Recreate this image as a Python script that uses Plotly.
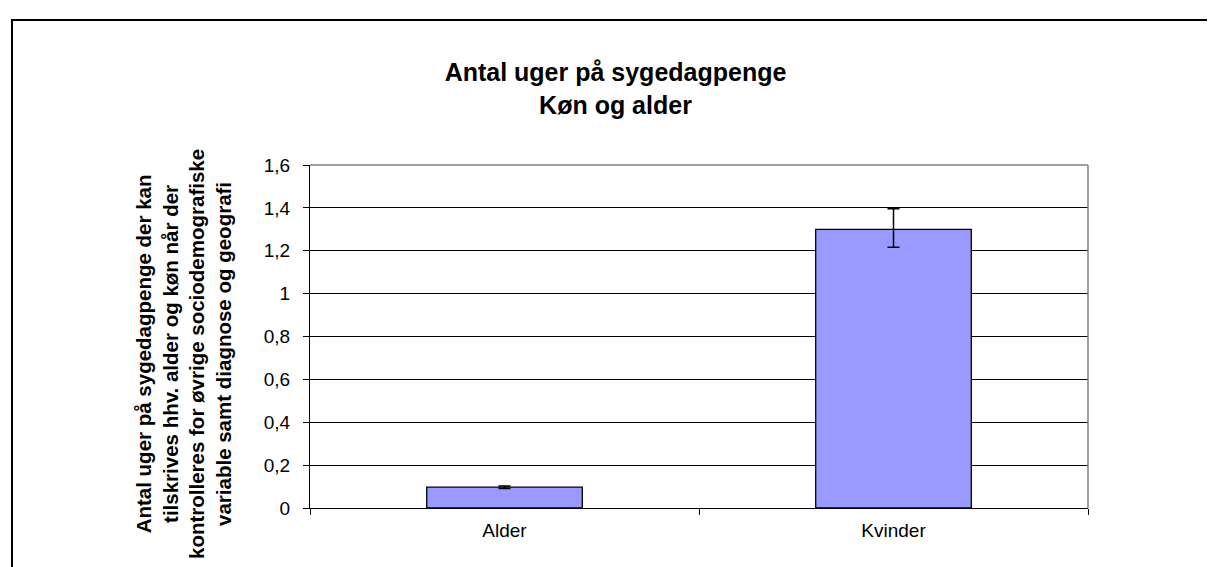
import plotly.graph_objects as go

categories = ["Alder", "Kvinder"]
values = [0.097, 1.30]
err_plus = [0.006, 0.096]
err_minus = [0.006, 0.084]
y_ticks = [0, 0.2, 0.4, 0.6, 0.8, 1.0, 1.2, 1.4, 1.6]
y_tick_labels = ["0", "0,2", "0,4", "0,6", "0,8", "1", "1,2", "1,4", "1,6"]

title_text = "Antal uger på sygedagpenge<br>Køn og alder"
ytitle_text = ("Antal uger på sygedagpenge der kan<br>"
               "tilskrives hhv. alder og køn når der<br>"
               "kontrolleres for øvrige sociodemografiske<br>"
               "variable samt diagnose og geografi")

FONT = "Liberation Sans, Arial, sans-serif"
W, H = 1215, 567
L, R, T, B = 302, 1080, 157, 500

fig = go.Figure()
fig.add_trace(go.Bar(
    x=categories, y=values,
    marker=dict(color="#9999FF", line=dict(color="black", width=1.3)),
    error_y=dict(type="data", symmetric=False, array=err_plus, arrayminus=err_minus,
                 color="black", thickness=1.5, width=6),
    width=0.4,
))

def px_x(p):
    return (p - L) / (R - L)

def px_y(p):
    return (B - p) / (B - T)

def bold_lines(s):
    return "<br>".join("<b>" + part + "</b>" for part in s.split("<br>"))

fig.update_layout(
    width=W, height=H,
    margin=dict(l=L, r=W - R, t=T, b=H - B, pad=0),
    paper_bgcolor="white", plot_bgcolor="white",
    showlegend=False,
    font=dict(family=FONT, size=19, color="black"),
    title=dict(text=bold_lines(title_text),
               x=0.5, xref="container", xanchor="center",
               y=1 - 73 / H, yref="container", yanchor="middle",
               font=dict(family=FONT, size=25, color="black")),
    xaxis=dict(showline=True, linecolor="black", linewidth=1,
               ticks="outside", tickson="boundaries", ticklen=6, tickcolor="black",
               showgrid=False, tickfont=dict(size=19), ticklabelstandoff=5),
    yaxis=dict(range=[0, 1.6], tickvals=y_ticks, ticktext=y_tick_labels,
               showline=True, linecolor="black", linewidth=1,
               ticks="outside", ticklen=6, tickcolor="black",
               showgrid=True, gridcolor="black", gridwidth=1,
               zeroline=False, tickfont=dict(size=19), ticklabelstandoff=9),
)

# plot area border (top and right, gray)
fig.add_shape(type="line", xref="paper", yref="paper", x0=0, x1=1, y0=1, y1=1,
              line=dict(color="#808080", width=1.5))
fig.add_shape(type="line", xref="paper", yref="paper", x0=1, x1=1, y0=0, y1=1,
              line=dict(color="#808080", width=1.5))

# outer chart border
fig.add_shape(type="rect", xref="paper", yref="paper",
              x0=px_x(4), x1=px_x(1235), y0=px_y(585), y1=px_y(12),
              line=dict(color="black", width=2), layer="above")

fig.add_annotation(text=bold_lines(ytitle_text),
                   xref="paper", yref="paper", x=px_x(175), y=px_y(346),
                   xanchor="center", yanchor="middle", textangle=-90,
                   showarrow=False, font=dict(family=FONT, size=20.5, color="black"))

fig.write_html("out.html")
